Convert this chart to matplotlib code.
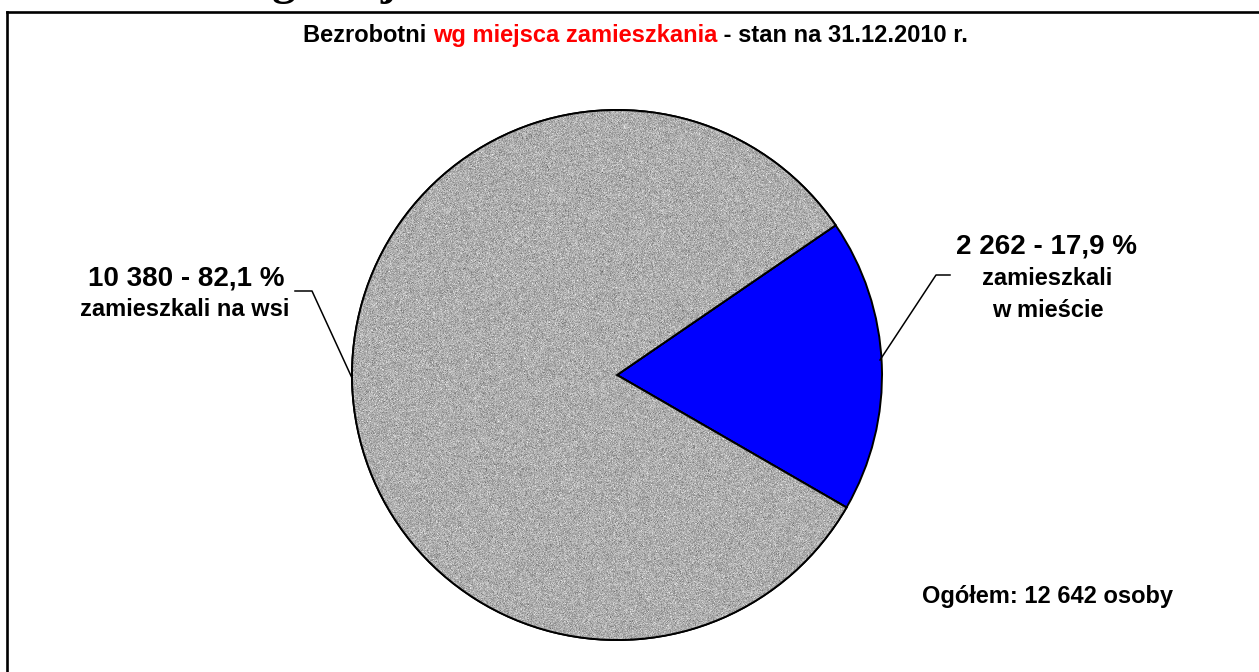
import numpy as np
import matplotlib
matplotlib.use('Agg')
import matplotlib.pyplot as plt
from matplotlib.lines import Line2D
from matplotlib.patches import PathPatch

plt.rcParams['font.family'] = ['Liberation Sans', 'DejaVu Sans']

# --- data ---
categories = ['zamieszkali w mieście', 'zamieszkali na wsi']
counts = [2262, 10380]
shares = [17.9, 82.1]
total = 12642
colors = ['#0000FF', '#ABABAB']

W, H = 1259, 672


def Y(yp):
    # pixel row (from top) -> data y (from bottom)
    return H - yp


fig = plt.figure(figsize=(W / 100, H / 100), dpi=100)
ax = fig.add_axes([0, 0, 1, 1])

cx, cy, r = 617, Y(375), 265
wedges, _ = ax.pie(counts, colors=colors, startangle=-30, counterclock=True,
                   radius=r, center=(cx, cy),
                   wedgeprops=dict(edgecolor='black', linewidth=1.4))
ax.set_xlim(0, W)
ax.set_ylim(0, H)
ax.set_aspect('equal')
ax.axis('off')

# granite-like texture on the grey slice
rng = np.random.default_rng(7)
tex = rng.normal(0.68, 0.075, (2 * r, 2 * r))
tex = np.clip(tex, 0, 1)
img = ax.imshow(tex, cmap='gray', vmin=0, vmax=1, interpolation='nearest',
                extent=(cx - r, cx + r, cy - r, cy + r), zorder=wedges[1].get_zorder() + 0.1)
img.set_clip_path(wedges[1])
# outline of grey slice above the texture
outline = wedges[1].get_path().transformed(wedges[1].get_patch_transform())
ax.add_patch(PathPatch(outline, fill=False, edgecolor='black', linewidth=1.4,
                       zorder=img.get_zorder() + 0.1))
ax.set_xlim(0, W)
ax.set_ylim(0, H)

# frame
fig.add_artist(Line2D([6.5 / W, 1.0], [1 - 12 / H, 1 - 12 / H], transform=fig.transFigure,
                      color='black', linewidth=1.9))
fig.add_artist(Line2D([6.5 / W, 6.5 / W], [0, 1 - 12 / H], transform=fig.transFigure,
                      color='black', linewidth=1.9))

# cut-off heading above the frame (only descenders show)
ax.text(238, Y(-6.5), 'wg miejsca', fontsize=34, fontweight='bold',
        family=['Liberation Serif', 'DejaVu Serif'], ha='left', va='baseline', clip_on=False)

# title in three colours
t1 = ax.text(303, Y(42), 'Bezrobotni ', fontsize=17, fontweight='bold',
             color='black', ha='left', va='baseline')
t2 = ax.annotate('wg miejsca zamieszkania', xycoords=t1, xy=(1, 0), va='bottom',
                 fontsize=17, fontweight='bold', color='#FF0000')
t3 = ax.annotate(' - stan na 31.12.2010 r.', xycoords=t2, xy=(1, 0), va='bottom',
                 fontsize=17, fontweight='bold', color='black')

# labels
fmt = lambda n: f'{n:,}'.replace(',', ' ')
pct = lambda p: f'{p:.1f}'.replace('.', ',')

ax.text(186, Y(285), f'{fmt(counts[1])} - {pct(shares[1])} %', fontsize=20,
        fontweight='bold', ha='center', va='baseline')
ax.text(185, Y(316), 'zamieszkali na wsi', fontsize=17,
        fontweight='bold', ha='center', va='baseline')

ax.text(1047, Y(254), f'{fmt(counts[0])} - {pct(shares[0])} %', fontsize=20,
        fontweight='bold', ha='center', va='baseline')
ax.text(1047, Y(285), 'zamieszkali', fontsize=17,
        fontweight='bold', ha='center', va='baseline')
ax.text(1048, Y(317), 'w mieście', fontsize=17,
        fontweight='bold', ha='center', va='baseline')

ax.text(1048, Y(603), f'Ogółem: {fmt(total)} osoby', fontsize=17,
        fontweight='bold', ha='center', va='baseline')

# leader lines
ax.plot([295, 312, 352], [Y(291), Y(291), Y(378)], color='black', linewidth=1.1, zorder=10)
ax.plot([950, 936, 880], [Y(275), Y(275), Y(360)], color='black', linewidth=1.1, zorder=10)

fig.savefig('out.png', dpi=100)
